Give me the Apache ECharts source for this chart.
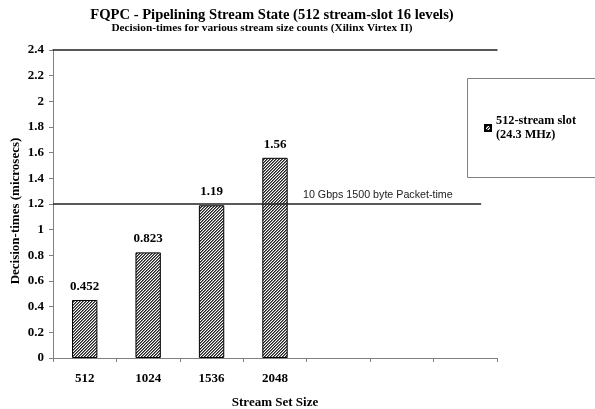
<!DOCTYPE html>
<html>
<head>
<meta charset="utf-8">
<script src="https://cdn.jsdelivr.net/npm/echarts@6/dist/echarts.min.js"></script>
<style>
  html, body { margin: 0; padding: 0; background: #fff; }
  #chart { width: 595px; height: 409px; }
</style>
</head>
<body>
<div id="chart"></div>
<script>
// Stream set sizes on the x axis (three trailing empty slots keep the layout wide)
const categories = ['512', '1024', '1536', '2048', '', '', ''];
// Decision time in microseconds for the 512-stream slot design
const decisionTimes = [0.452, 0.823, 1.19, 1.56];
// 10 Gbps, 1500 byte packet time threshold (microseconds)
const packetTime = 1.2;
const packetLineEnd = 6.75;
const yTicks = { min: 0, max: 2.4, interval: 0.2 };

const serif = '"Liberation Serif", "DejaVu Serif", serif';
const sans = '"Liberation Sans", Arial, sans-serif';

// Fine diagonal hatch fill for the bars
function hatch() {
  const n = 3;
  const c = document.createElement('canvas');
  c.width = n; c.height = n;
  const ctx = c.getContext('2d');
  ctx.fillStyle = '#ffffff';
  ctx.fillRect(0, 0, n, n);
  for (let y = 0; y < n; y++) {
    ctx.fillStyle = '#222222';
    ctx.fillRect((n - 1 - y + n) % n, y, 1, 1);
    ctx.fillStyle = '#777777';
    ctx.fillRect((n - y + n) % n, y, 1, 1);
  }
  return { image: c, repeat: 'repeat' };
}
const hatchFill = hatch();

const chart = echarts.init(document.getElementById('chart'), null, { renderer: 'canvas' });
chart.setOption({
  animation: false,
  backgroundColor: '#ffffff',
  title: [
    {
      text: 'FQPC - Pipelining Stream State (512 stream-slot 16 levels)',
      left: 272, top: 8, textAlign: 'center', padding: 0,
      textStyle: { fontFamily: serif, fontWeight: 'bold', fontSize: 14.6, color: '#000' }
    },
    {
      text: 'Decision-times for various stream size counts (Xilinx Virtex II)',
      left: 262, top: 23, textAlign: 'center', padding: 0,
      textStyle: { fontFamily: serif, fontWeight: 'bold', fontSize: 11.3, color: '#000' }
    }
  ],
  grid: { left: 53, right: 98, top: 50, bottom: 51, containLabel: false, outerBoundsMode: 'none' },
  legend: {
    show: true,
    left: 484, top: 114, padding: 0,
    orient: 'vertical',
    itemWidth: 6, itemHeight: 6, itemGap: 6,
    icon: 'rect',
    data: ['512-stream slot\n(24.3 MHz)'],
    textStyle: { fontFamily: serif, fontWeight: 'bold', fontSize: 12.3, color: '#000', lineHeight: 14 }
  },
  graphic: [
    {
      type: 'rect', silent: true,
      shape: { x: 467.5, y: 78.5, width: 140, height: 99 },
      style: { fill: 'none', stroke: '#808080', lineWidth: 1 }
    },
    {
      type: 'text', silent: true, x: 303, y: 195,
      style: { text: '10 Gbps 1500 byte Packet-time', font: '10.7px ' + sans, fill: '#222', textVerticalAlign: 'middle' }
    },
    {
      type: 'text', silent: true, x: 16, y: 211, rotation: Math.PI / 2,
      style: { text: 'Decision-times (microsecs)', font: 'bold 13px ' + serif, fill: '#000', textAlign: 'center', textVerticalAlign: 'middle' }
    }
  ],
  xAxis: [
    {
      type: 'category',
      data: categories,
      boundaryGap: true,
      name: 'Stream Set Size',
      nameLocation: 'middle',
      nameGap: 38,
      nameTextStyle: { fontFamily: serif, fontWeight: 'bold', fontSize: 13, color: '#000' },
      axisLine: { lineStyle: { color: '#808080', width: 1 } },
      axisTick: { show: true, interval: 0, length: 4, lineStyle: { color: '#808080' } },
      axisLabel: { interval: 0, margin: 14, fontFamily: serif, fontWeight: 'bold', fontSize: 13, color: '#000' },
      splitLine: { show: false }
    },
    {
      type: 'value',
      position: 'top',
      min: 0, max: categories.length,
      axisLine: { show: true, onZero: false, lineStyle: { color: '#222', width: 1.5 } },
      axisTick: { show: false },
      axisLabel: { show: false },
      splitLine: { show: false }
    }
  ],
  yAxis: {
    type: 'value',
    min: yTicks.min, max: yTicks.max, interval: yTicks.interval,
    axisLine: { show: true, lineStyle: { color: '#808080', width: 1 } },
    axisTick: { show: true, length: 4, lineStyle: { color: '#808080' } },
    axisLabel: {
      margin: 9, fontFamily: serif, fontWeight: 'bold', fontSize: 13, color: '#000',
      formatter: v => String(Math.round(v * 10) / 10)
    },
    splitLine: { show: false }
  },
  series: [
    {
      name: '512-stream slot\n(24.3 MHz)',
      type: 'bar',
      xAxisIndex: 0,
      barWidth: '40%',
      data: decisionTimes,
      itemStyle: { color: hatchFill, borderColor: '#000', borderWidth: 1 },
      label: {
        show: true, position: 'top', distance: 7,
        fontFamily: serif, fontWeight: 'bold', fontSize: 13, color: '#000'
      }
    },
    {
      name: 'packet-time',
      type: 'line',
      xAxisIndex: 1,
      data: [[0, packetTime], [packetLineEnd, packetTime]],
      symbol: 'none',
      lineStyle: { color: '#222', width: 1.5 },
      z: 3
    }
  ]
});
</script>
</body>
</html>
